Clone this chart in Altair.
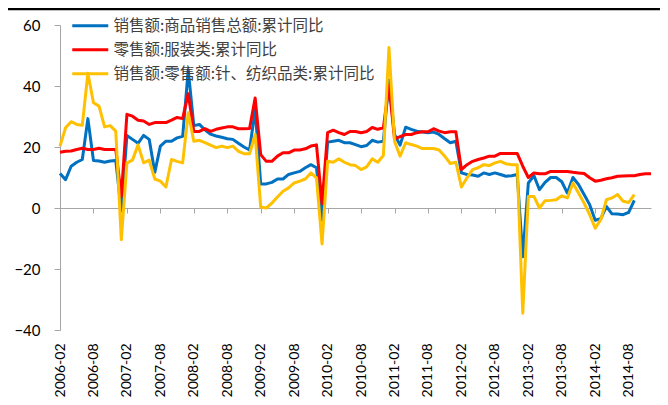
import altair as alt
import pandas as pd

months = list(pd.date_range("2006-02-01", periods=107, freq="MS").strftime("%Y-%m"))
tick_labels = months[::6]

s_blue = "销售额:商品销售总额:累计同比"
s_red = "零售额:服装类:累计同比"
s_yellow = "销售额:零售额:针、纺织品类:累计同比"

blue = [11.3, 9.3, 13.7, 15, 15.9, 29.3, 15.6, 15.4, 15, 15.4, 15.6, -1,
        23.8, 22.5, 21.2, 23.8, 22.5, 11.7, 20.3, 21.9, 21.9, 23, 23.5, 45.3,
        27, 27.4, 25.6, 24.2, 23.6, 23.2, 22.7, 22.5, 21.2, 20, 19, 32.3,
        7.9, 7.9, 8.4, 9.5, 9.5, 11, 11.5, 12, 13.2, 14.2, 13.2, -4,
        21.6, 21.9, 22.2, 21.4, 21.4, 20.8, 20.1, 20.5, 22.2, 21.6, 21.9, 42,
        24.1, 20.6, 26.5, 25.8, 25.2, 24.9, 24.7, 24.9, 24.1, 22.7, 21.4, 21.9,
        11.5, 11, 10.8, 10.4, 11.5, 11, 11.5, 11, 10.4, 10.6, 11, -16,
        8.2, 10.6, 6, 8.4, 10, 10, 8.6, 4.9, 10, 7.7, 4.4, 1.1,
        -4, -3.5, 0.5, -1.9, -2, -2.2, -1.4, 2.5]

red = [18.3, 18.6, 18.7, 19.2, 19.6, 19.2, 19.2, 19.6, 19.2, 19.2, 19.2, 3.8,
       30.7, 30.1, 28.8, 28.5, 27.4, 28, 28, 28, 28.8, 29.7, 29.3, 37.5,
       25.1, 25.1, 26, 25.1, 25.8, 26.2, 26.6, 26.6, 26, 26, 26.1, 36.1,
       17.5, 15.3, 15.3, 17, 18.1, 18.1, 19, 19, 19.4, 20.3, 20.7, 1.4,
       24.7, 25.5, 24.7, 24.1, 25.1, 25.1, 24.7, 25.1, 26.4, 25.8, 26.3, 40.2,
       22.7, 23.4, 24.1, 24.1, 24.7, 25, 25, 26, 25.2, 24.7, 25, 25,
       12.6, 14.2, 15.3, 15.9, 16.4, 17, 17, 17.9, 17.9, 17.9, 17.9, 13.7,
       10, 11.5, 11.2, 11.2, 12, 12, 12, 12, 11.7, 11.5, 11.3, 9.9,
       8.8, 9.1, 9.6, 9.9, 10.4, 10.5, 10.6, 10.6, 11, 11.2, 11.2]

yellow = [20.3, 26.3, 28.3, 27.4, 27.1, 44.2, 34.5, 33.4, 26.6, 27, 25.2, -10.4,
          14.8, 15.7, 20.7, 14.8, 15.7, 9.5, 8.8, 6.9, 15.9, 15.3, 14.8, 31.2,
          21.9, 22.2, 21.4, 20.6, 19.8, 20.3, 19.8, 20.3, 18.6, 17.8, 17.8, 24.1,
          0.3, 0, 1.6, 3.6, 5.5, 6.6, 8.2, 8.8, 9.5, 11.5, 9.9, -11.8,
          15.3, 15, 16.1, 15, 14.2, 13.9, 12.6, 13.5, 16.1, 15, 17.2, 52.6,
          21.9, 17, 21.4, 20.8, 20.3, 19.5, 19.5, 19.5, 19, 17, 14.6, 15,
          6.9, 9.9, 12.6, 13.2, 14.2, 13.9, 14.8, 15.3, 14.5, 14.2, 14.2, -34.5,
          3.8, 3.8, 0, 2.4, 2.5, 2.7, 4, 3.3, 8.2, 4.9, 1.6, -2.2,
          -6.6, -3.8, 2.7, 3.3, 4.4, 2.2, 1.8, 4.4]

series_names = [s_blue, s_red, s_yellow]
series_vals = [blue, red, yellow]
colors = ["#0070C0", "#FF0000", "#FFC000"]

rows = []
for name, vals in zip(series_names, series_vals):
    for m, v in zip(months, vals):
        rows.append({"month": m, "series": name, "value": v})
df = pd.DataFrame(rows)

gray = "#A6A6A6"

lines = alt.Chart(df).mark_line(strokeWidth=3, strokeJoin="round").encode(
    x=alt.X("month:O", sort=months,
            scale=alt.Scale(type="point", padding=0),
            axis=alt.Axis(values=tick_labels, labelAngle=270, offset=-122,
                          tickSize=5, labelPadding=130, domainColor=gray,
                          tickColor=gray, title=None, labelFont="Lato",
                          labelFontSize=14, labelColor="#000000",
                          labelOverlap=False)),
    y=alt.Y("value:Q", scale=alt.Scale(domain=[-40, 60], nice=False, zero=False),
            axis=alt.Axis(values=[-40, -20, 0, 20, 40, 60], grid=False, tickSize=6,
                          labelPadding=14, domainColor=gray, tickColor=gray,
                          title=None, labelFont="Lato", labelFontSize=15,
                          labelColor="#000000")),
    color=alt.Color("series:N", sort=series_names,
                    scale=alt.Scale(domain=series_names, range=colors),
                    legend=alt.Legend(orient="none", legendX=22.5, legendY=-7,
                                      title=None, symbolType="M-3,0H3",
                                      symbolSize=144, symbolStrokeWidth=3,
                                      labelFont="Noto Sans CJK SC",
                                      labelFontSize=15.5, labelColor="#404040",
                                      labelOffset=15.5, rowPadding=7, padding=0,
                                      labelLimit=0)),
    order=alt.value(0),
)

top_rule = alt.Chart(pd.DataFrame({"k": [0]})).mark_rule(
    color="black", strokeWidth=2.5
).encode(x=alt.value(-53), x2=alt.value(608), y=alt.value(-16))

chart = alt.layer(lines, top_rule).properties(
    width=591, height=305,
    autosize=alt.AutoSizeParams(type="none"),
    padding={"left": 52, "top": 17, "right": 9, "bottom": 67},
).configure_view(stroke=None)

chart.save("out.html", embed_options={"renderer": "svg", "actions": False})
